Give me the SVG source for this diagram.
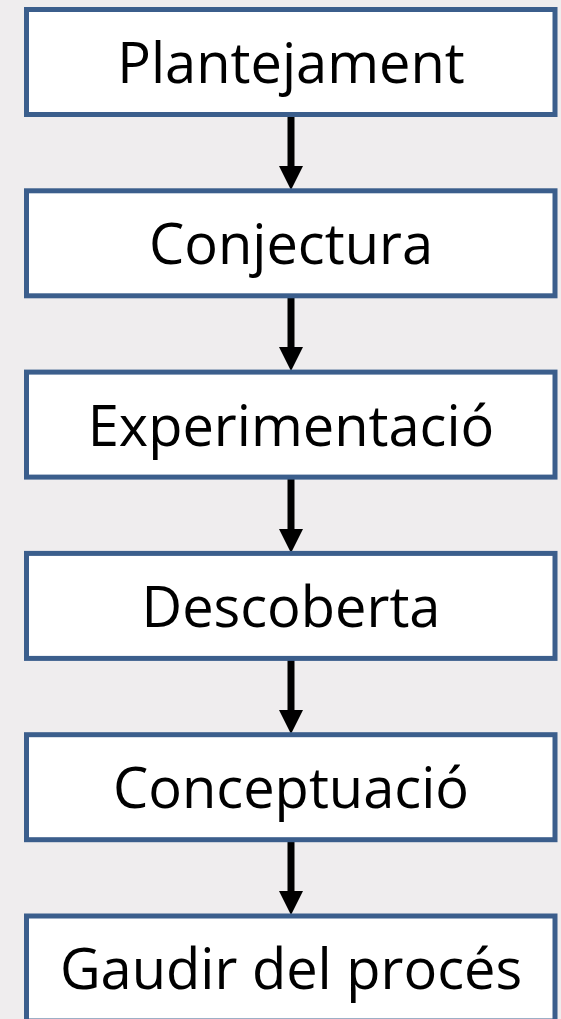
<svg xmlns="http://www.w3.org/2000/svg" width="561" height="1019" viewBox="0 0 561 1019">
<style>
.box{fill:#ffffff;stroke:#3b5e8c;stroke-width:5}
.lbl{font-family:"Open Sans","Liberation Sans",sans-serif;font-size:56px;fill:#000;text-anchor:middle}
.shaft{stroke:#000;stroke-width:7;fill:none}
.head{fill:#000}
</style>
<rect x="0" y="0" width="561" height="1019" fill="#efedee"/>
<g id="connectors">
<line class="shaft" x1="291" y1="112" x2="291" y2="168"/><polygon class="head" points="279,166 303,166 291,190"/>
<line class="shaft" x1="291" y1="293" x2="291" y2="349"/><polygon class="head" points="279,347 303,347 291,371"/>
<line class="shaft" x1="291" y1="475" x2="291" y2="531"/><polygon class="head" points="279,529 303,529 291,553"/>
<line class="shaft" x1="291" y1="656" x2="291" y2="712"/><polygon class="head" points="279,710 303,710 291,734"/>
<line class="shaft" x1="291" y1="837" x2="291" y2="893"/><polygon class="head" points="279,891 303,891 291,915"/>
</g>
<g id="n1"><rect class="box" x="26.5" y="9.5" width="528.5" height="105"/><text class="lbl" x="291" y="83">Plantejament</text></g>
<g id="n2"><rect class="box" x="26.5" y="190.8" width="528.5" height="105"/><text class="lbl" x="291" y="264">Conjectura</text></g>
<g id="n3"><rect class="box" x="26.5" y="372.1" width="528.5" height="105"/><text class="lbl" x="291" y="446">Experimentació</text></g>
<g id="n4"><rect class="box" x="26.5" y="553.4" width="528.5" height="105"/><text class="lbl" x="291" y="627">Descoberta</text></g>
<g id="n5"><rect class="box" x="26.5" y="734.7" width="528.5" height="105"/><text class="lbl" x="291" y="808">Conceptuació</text></g>
<g id="n6"><rect class="box" x="26.5" y="916" width="528.5" height="105"/><text class="lbl" x="291" y="989">Gaudir del procés</text></g>
</svg>
